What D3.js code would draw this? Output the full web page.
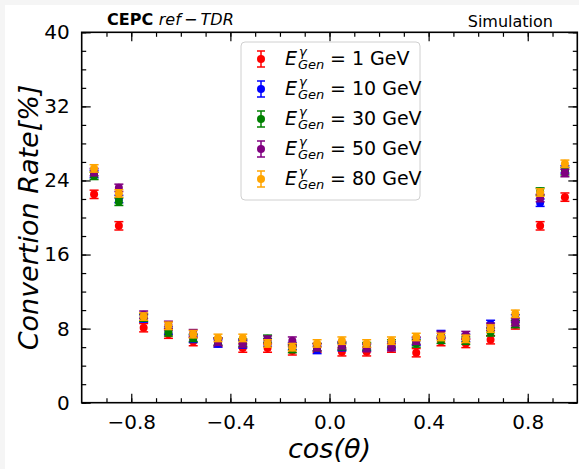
<!DOCTYPE html>
<html>
<head>
<meta charset="utf-8">
<script src="https://cdn.jsdelivr.net/npm/d3@7"></script>
<style>
  body { margin: 0; background: #f5f5f5; }
  svg { display: block; font-family: "DejaVu Sans", sans-serif; }
</style>
</head>
<body>
<div id="chart"></div>
<script>
// bin centres in cos(theta)
var cosTheta = [-0.95, -0.85, -0.75, -0.65, -0.55, -0.45, -0.35, -0.25, -0.15, -0.05,
                0.05, 0.15, 0.25, 0.35, 0.45, 0.55, 0.65, 0.75, 0.85, 0.95];

var energies = ["1", "10", "30", "50", "80"];
var colors = ["#ff0000", "#0000ff", "#008000", "#800080", "#ffa500"];

var rate1 = [22.5, 19.1, 8.1, 7.4, 6.6, 6.5, 5.9, 5.9, 5.6, 5.9, 5.5, 5.5, 5.9, 5.4, 6.6, 6.4, 6.8, 8.4, 19.1, 22.2];
var rate10 = [24.7, 22.0, 9.1, 7.8, 6.9, 6.4, 6.3, 6.5, 6.1, 5.7, 6.0, 6.0, 6.2, 6.6, 7.4, 7.0, 8.5, 9.1, 21.6, 25.2];
var rate30 = [24.5, 21.7, 9.2, 7.6, 7.0, 6.6, 6.5, 6.9, 5.8, 6.0, 6.1, 6.1, 6.4, 6.4, 6.8, 6.7, 7.6, 8.5, 22.8, 25.0];
var rate50 = [24.9, 23.2, 9.5, 8.4, 7.5, 6.6, 6.4, 6.8, 6.7, 6.0, 6.2, 5.9, 6.0, 6.7, 7.3, 7.3, 8.2, 8.7, 22.1, 24.8];
var rate80 = [25.3, 22.6, 9.3, 8.3, 7.4, 7.0, 7.0, 6.4, 6.0, 6.4, 6.7, 6.4, 6.7, 7.1, 7.1, 6.9, 8.0, 9.6, 22.7, 25.8];
var errs = [0.45, 0.4, 0.4, 0.4, 0.4];

var yTicks = [0, 8, 16, 24, 32, 40];
var xTicks = [-0.8, -0.4, 0.0, 0.4, 0.8];

var chartW = 579, chartH = 469;
var pLeft = 81.7, pRight = 577.3, pTop = 32.3, pBottom = 402.7;

var svg = d3.select("#chart").append("svg")
  .attr("width", chartW).attr("height", chartH);

// light frame like the screenshot
svg.append("rect").attr("x", 5).attr("y", 5).attr("width", chartW - 5).attr("height", chartH - 5).attr("fill", "white");

var x = d3.scaleLinear().domain([-1, 1]).range([pLeft, pRight]);
var y = d3.scaleLinear().domain([0, 40]).range([pBottom, pTop]);

var xMinor = d3.range(-9, 10).map(function(d) { return d / 10; });
var yMinor = d3.range(0, 41, 2);

function styleAxis(g) {
  g.select(".domain").remove();
  g.selectAll(".tick line").attr("stroke", "black").attr("stroke-width", 1.2);
  g.selectAll("text").attr("font-size", 20).attr("fill", "black").attr("font-family", "DejaVu Sans");
}

// minor ticks, all sides
svg.append("g").attr("transform", "translate(0," + pBottom + ")")
  .call(d3.axisBottom(x).tickValues(xMinor).tickSize(-4.5).tickFormat("")).call(styleAxis);
svg.append("g").attr("transform", "translate(0," + pTop + ")")
  .call(d3.axisTop(x).tickValues(xMinor).tickSize(-4.5).tickFormat("")).call(styleAxis);
svg.append("g").attr("transform", "translate(" + pLeft + ",0)")
  .call(d3.axisLeft(y).tickValues(yMinor).tickSize(-4.5).tickFormat("")).call(styleAxis);
svg.append("g").attr("transform", "translate(" + pRight + ",0)")
  .call(d3.axisRight(y).tickValues(yMinor).tickSize(-4.5).tickFormat("")).call(styleAxis);

// major ticks
var minus = function(d) { return d3.format(".1f")(d).replace("-", "\u2212"); };
svg.append("g").attr("transform", "translate(0," + pBottom + ")")
  .call(d3.axisBottom(x).tickValues(xTicks).tickSize(-9).tickPadding(12).tickFormat(minus)).call(styleAxis);
svg.append("g").attr("transform", "translate(0," + pTop + ")")
  .call(d3.axisTop(x).tickValues(xTicks).tickSize(-9).tickFormat("")).call(styleAxis);
svg.append("g").attr("transform", "translate(" + pLeft + ",0)")
  .call(d3.axisLeft(y).tickValues(yTicks).tickSize(-9).tickPadding(12).tickFormat(d3.format("d"))).call(styleAxis);
svg.append("g").attr("transform", "translate(" + pRight + ",0)")
  .call(d3.axisRight(y).tickValues(yTicks).tickSize(-9).tickFormat("")).call(styleAxis);

// frame
svg.append("rect").attr("x", pLeft).attr("y", pTop).attr("width", pRight - pLeft).attr("height", pBottom - pTop)
  .attr("fill", "none").attr("stroke", "black").attr("stroke-width", 1.6);

// data with error bars
var series = [rate1, rate10, rate30, rate50, rate80];
series.forEach(function(vals, i) {
  var g = svg.append("g").attr("fill", colors[i]).attr("stroke", colors[i]);
  var pts = g.selectAll("g.pt").data(vals).enter().append("g");
  pts.append("line")
    .attr("x1", function(d, j) { return x(cosTheta[j]); })
    .attr("x2", function(d, j) { return x(cosTheta[j]); })
    .attr("y1", function(d) { return y(d - errs[i]); })
    .attr("y2", function(d) { return y(d + errs[i]); })
    .attr("stroke-width", 1.5);
  [-1, 1].forEach(function(s) {
    pts.append("line")
      .attr("x1", function(d, j) { return x(cosTheta[j]) - 4.5; })
      .attr("x2", function(d, j) { return x(cosTheta[j]) + 4.5; })
      .attr("y1", function(d) { return y(d + s * errs[i]); })
      .attr("y2", function(d) { return y(d + s * errs[i]); })
      .attr("stroke-width", 1.5);
  });
  pts.append("circle")
    .attr("cx", function(d, j) { return x(cosTheta[j]); })
    .attr("cy", function(d) { return y(d); })
    .attr("r", 4).attr("stroke", "none");
});

// legend
var lg = svg.append("g");
lg.append("rect").attr("x", 241).attr("y", 42).attr("width", 179).attr("height", 158)
  .attr("rx", 4).attr("fill", "white").attr("fill-opacity", 0.85).attr("stroke", "#d0d0d0");
energies.forEach(function(e, i) {
  var cy = 59 + i * 30;
  var c = colors[i];
  lg.append("line").attr("x1", 261).attr("x2", 261).attr("y1", cy - 8).attr("y2", cy + 8).attr("stroke", c).attr("stroke-width", 1.5);
  lg.append("line").attr("x1", 257).attr("x2", 265).attr("y1", cy - 8).attr("y2", cy - 8).attr("stroke", c).attr("stroke-width", 1.5);
  lg.append("line").attr("x1", 257).attr("x2", 265).attr("y1", cy + 8).attr("y2", cy + 8).attr("stroke", c).attr("stroke-width", 1.5);
  lg.append("circle").attr("cx", 261).attr("cy", cy).attr("r", 4).attr("fill", c);
  lg.append("text").attr("x", 285).attr("y", cy + 6).attr("font-size", 19).attr("font-style", "italic").text("E");
  lg.append("text").attr("x", 299).attr("y", cy - 3).attr("font-size", 13).attr("font-style", "italic").text("\u03b3");
  lg.append("text").attr("x", 298).attr("y", cy + 10).attr("font-size", 13).attr("font-style", "italic").text("Gen");
  lg.append("text").attr("x", 330).attr("y", cy + 6).attr("font-size", 19).text("= " + e + " GeV");
});

// titles
var t = svg.append("text").attr("x", 107).attr("y", 25).attr("font-size", 16);
t.append("tspan").attr("font-weight", "bold").text("CEPC ");
t.append("tspan").attr("font-style", "italic").text("ref\u2009\u2212\u2009TDR");
svg.append("text").attr("x", 553).attr("y", 26.5).attr("text-anchor", "end").attr("font-size", 16).text("Simulation");

svg.append("text").attr("x", (pLeft + pRight) / 2).attr("y", 458).attr("text-anchor", "middle")
  .attr("font-size", 27).attr("font-style", "italic").text("cos(\u03b8)");
svg.append("text").attr("transform", "translate(38," + (pTop + pBottom) / 2 + ") rotate(-90)")
  .attr("text-anchor", "middle").attr("font-size", 27).attr("font-style", "italic").text("Convertion Rate[%]");
</script>
</body>
</html>
